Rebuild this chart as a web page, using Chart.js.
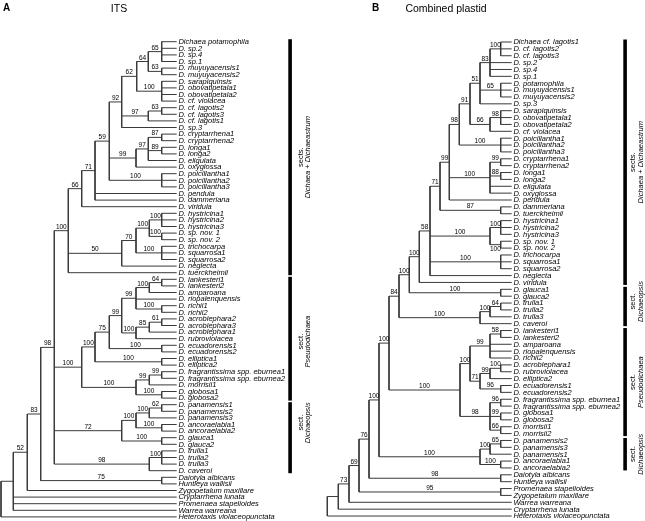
<!DOCTYPE html>
<html>
<head>
<meta charset="utf-8">
<script src="https://cdn.jsdelivr.net/npm/chart.js@4.4.1/dist/chart.umd.min.js"></script>
<style>
  html, body { margin: 0; padding: 0; background: #fff; }
  #wrap { width: 645px; height: 521px; position: relative; }
</style>
</head>
<body>
<div id="wrap"><canvas id="treeChart"></canvas></div>
<script>
// ---- ITS tree (panel A) ----
const itsLeaves = [
  'Dichaea potamophila', 'D. sp.2', 'D. sp.4', 'D. sp.1', 'D. muyuyacensis1', 'D. muyuyacensis2',
  'D. sarapiquinsis', 'D. obovatipetala1', 'D. obovatipetala2', 'D. cf. violacea', 'D. cf. lagotis2',
  'D. cf. lagotis3', 'D. cf. lagotis1', 'D. sp.3', 'D. cryptarrhena1', 'D. cryptarrhena2', 'D. longa1',
  'D. longa2', 'D. eligulata', 'D. oxyglossa', 'D. poicillantha1', 'D. poicillantha2', 'D. poicillantha3',
  'D. pendula', 'D. dammeriana', 'D. viridula', 'D. hystricina1', 'D. hystricina2', 'D. hystricina3',
  'D. sp. nov. 1', 'D. sp. nov. 2', 'D. trichocarpa', 'D. squarrosa1', 'D. squarrosa2', 'D. neglecta',
  'D. tuerckheimii', 'D. lankesteri1', 'D. lankesteri2', 'D. amparoana', 'D. riopalenquensis',
  'D. richii1', 'D. richii2', 'D. acroblephara2', 'D. acroblephara3', 'D. acroblephara1',
  'D. rubroviolacea', 'D. ecuadorensis1', 'D. ecuadorensis2', 'D. elliptica1', 'D. elliptica2',
  'D. fragrantissima spp. eburnea1', 'D. fragrantissima spp. eburnea2', 'D. morrisii1', 'D. globosa1',
  'D. globosa2', 'D. panamensis1', 'D. panamensis2', 'D. panamensis3', 'D. ancoraelabia1',
  'D. ancoraelabia2', 'D. glauca1', 'D. glauca2', 'D. trulla1', 'D. trulla2', 'D. trulla3', 'D. caveroi',
  'Daiotyla albicans', 'Huntleya wallisii', 'Zygopetalum maxillare', 'Cryptarrhena lunata',
  'Promenaea stapelioides', 'Warrea warreana', 'Heterotaxis violaceopunctata'
];
// [node id, node depth, bootstrap, children (leaf index or node id)] - children listed before parents
const itsNodes = [
  ['a65', 161.7, '65', [0, 1, 2, 3]],
  ['a63', 161.7, '63', [4, 5]],
  ['a64', 148.3, '64', ['a65', 'a63']],
  ['a100a', 161.7, '100', [6, 7, 8, 9]],
  ['a62', 136.7, '62', ['a64', 'a100a']],
  ['a63b', 161.7, '63', [10, 11]],
  ['a97', 148.3, '97', ['a63b', 12]],
  ['a92', 121.7, '92', ['a62', 'a97', 13]],
  ['a87', 161.7, '87', [14, 15]],
  ['a89', 161.7, '89', [16, 17]],
  ['a97b', 148.3, '97', ['a87', 'a89', 18]],
  ['a99', 136, '99', ['a97b', 19]],
  ['a100b', 161.7, '100', [20, 21, 22]],
  ['a59', 109.3, '59', ['a92', 'a99', 'a100b']],
  ['a71', 95, '71', ['a59', 23, 24]],
  ['a66', 81.7, '66', ['a71', 25]],
  ['a100c', 161.7, '100', [26, 27, 28]],
  ['a100d', 161.7, '100', [29, 30]],
  ['a100e', 149.3, '100', ['a100c', 'a100d']],
  ['a100f', 161.7, '100', [31, 32, 33]],
  ['a70', 136, '70', ['a100e', 'a100f']],
  ['a50', 121.7, '50', ['a70', 34]],
  ['a100g', 68.3, '100', ['a66', 'a50', 35]],
  ['a64b', 161.7, '64', [36, 37]],
  ['a100h', 149.3, '100', ['a64b', 38]],
  ['a100i', 161.7, '100', [40, 41]],
  ['a99b', 136, '99', ['a100h', 39, 'a100i']],
  ['a61', 161.7, '61', [42, 43]],
  ['a85', 149.3, '85', ['a61', 44]],
  ['a100j', 136, '100', ['a85', 45]],
  ['a99c', 121.7, '99', ['a99b', 'a100j']],
  ['a100k', 161.7, '100', [46, 47]],
  ['a75', 109.3, '75', ['a99c', 'a100k']],
  ['a100l', 161.7, '100', [48, 49]],
  ['a100m', 95, '100', ['a75', 'a100l']],
  ['a99d', 161.7, '99', [50, 51]],
  ['a99e', 149.3, '99', ['a99d', 52]],
  ['a100n', 161.7, '100', [53, 54]],
  ['a100o', 136, '100', ['a99e', 'a100n']],
  ['a100p', 81.7, '100', ['a100m', 'a100o']],
  ['a62b', 161.7, '62', [55, 56]],
  ['a100q', 149.3, '100', ['a62b', 57]],
  ['a100r', 161.7, '100', [58, 59]],
  ['a100s', 136, '100', ['a100q', 'a100r']],
  ['a100t', 161.7, '100', [60, 61]],
  ['a72', 121.7, '72', ['a100s', 'a100t']],
  ['a100u', 161.7, '100', [62, 63, 64]],
  ['a98b', 149.3, '98', ['a100u', 65]],
  ['a98', 54.3, '98', ['a100g', 'a100p', 'a72', 'a98b']],
  ['a75b', 161.7, '75', [66, 67]],
  ['a83', 40.7, '83', ['a98', 'a75b']],
  ['a52', 27.3, '52', ['a83', 68]],
  ['aOut', 13.3, '', ['a52', 69, 70, 71]],
  ['aRoot', 1, '', ['aOut', 72]]
];
// [line 1, line 2, first leaf, last leaf]
const itsSections = [
  ['sects.', 'Dichaea + Dichaeastrum', 0, 35],
  ['sect.', 'Pseudodichaea', 36, 54],
  ['sect.', 'Dichaeopsis', 55, 65]
];

// ---- Combined plastid tree (panel B) ----
const plastidLeaves = [
  'Dichaea cf. lagotis1', 'D. cf. lagotis2', 'D. cf. lagotis3', 'D. sp.2', 'D. sp.4', 'D. sp.1',
  'D. potamophila', 'D. muyuyacensis1', 'D. muyuyacensis2', 'D. sp.3', 'D. sarapiquinsis',
  'D. obovatipetala1', 'D. obovatipetala2', 'D. cf. violacea', 'D. poicillantha1', 'D. poicillantha2',
  'D. poicillantha3', 'D. cryptarrhena1', 'D. cryptarrhena2', 'D. longa1', 'D. longa2', 'D. eligulata',
  'D. oxyglossa', 'D. pendula', 'D. dammeriana', 'D. tuerckheimii', 'D. hystricina1', 'D. hystricina2',
  'D. hystricina3', 'D. sp. nov. 1', 'D. sp. nov. 2', 'D. trichocarpa', 'D. squarrosa1', 'D. squarrosa2',
  'D. neglecta', 'D. viridula', 'D. glauca1', 'D. glauca2', 'D. trulla1', 'D. trulla2', 'D. trulla3',
  'D. caveroi', 'D. lankesteri1', 'D. lankesteri2', 'D. amparoana', 'D. riopalenquensis', 'D. richii2',
  'D. acroblephara1', 'D. rubroviolacea', 'D. elliptica2', 'D. ecuadorensis1', 'D. ecuadorensis2',
  'D. fragrantissima spp. eburnea1', 'D. fragrantissima spp. eburnea2', 'D. globosa1', 'D. globosa2',
  'D. morrisii1', 'D. morrisii2', 'D. panamensis2', 'D. panamensis3', 'D. panamensis1',
  'D. ancoraelabia1', 'D. ancoraelabia2', 'Daiotyla albicans', 'Huntleya wallisii',
  'Promenaea stapelioides', 'Zygopetalum maxillare', 'Warrea warreana', 'Cryptarrhena lunata',
  'Heterotaxis violaceopunctata'
];
const plastidNodes = [
  ['b100a', 500.7, '100', [0, 1, 2]],
  ['b83', 490, '83', ['b100a', 3, 4, 5]],
  ['b65', 500.7, '65', [6, 7, 8]],
  ['b51', 480, '51', ['b83', 'b65', 9]],
  ['b98a', 500.7, '98', [10, 11, 12]],
  ['b66', 490, '66', ['b98a', 13]],
  ['b91', 470, '91', ['b51', 'b66']],
  ['b100b', 500.7, '100', [14, 15, 16]],
  ['b98', 459.3, '98', ['b91', 'b100b']],
  ['b99a', 500.7, '99', [17, 18]],
  ['b88', 500.7, '88', [19, 20]],
  ['b100c', 490, '100', ['b99a', 'b88', 21, 22]],
  ['b99', 449.3, '99', ['b98', 'b100c', 23]],
  ['b87', 500.7, '87', [24, 25]],
  ['b71', 440, '71', ['b99', 'b87']],
  ['b100d', 500.7, '100', [26, 27, 28]],
  ['b100e', 500.7, '100', [29, 30]],
  ['b100f', 490, '100', ['b100d', 'b100e']],
  ['b100g', 500.7, '100', [31, 32, 33]],
  ['b58', 430, '58', ['b71', 'b100f', 'b100g', 34]],
  ['b100h', 419.3, '100', ['b58', 35]],
  ['b100i', 500.7, '100', [36, 37]],
  ['b100j', 409.3, '100', ['b100h', 'b100i']],
  ['b64', 500.7, '64', [38, 39]],
  ['b100k', 490, '100', ['b64', 40]],
  ['b100l', 480, '100', ['b100k', 41]],
  ['b84', 399, '84', ['b100j', 'b100l']],
  ['b58b', 500.7, '58', [42, 43]],
  ['b99b', 490, '99', ['b58b', 44, 45, 46]],
  ['b100m', 500.7, '100', [47, 48]],
  ['b99c', 490, '99', ['b100m', 49]],
  ['b96', 500.7, '96', [50, 51]],
  ['b71b', 480, '71', ['b99c', 'b96']],
  ['b100n', 470, '100', ['b99b', 'b71b']],
  ['b96b', 500.7, '96', [52, 53]],
  ['b99d', 500.7, '99', [54, 55]],
  ['b66b', 500.7, '66', [56, 57]],
  ['b98b', 490, '98', ['b96b', 'b99d', 'b66b']],
  ['b100o', 460, '100', ['b100n', 'b98b']],
  ['b100p', 389, '100', ['b84', 'b100o']],
  ['b65b', 500.7, '65', [58, 59]],
  ['b100q', 490, '100', ['b65b', 60]],
  ['b100r', 500.7, '100', [61, 62]],
  ['b100s', 480, '100', ['b100q', 'b100r']],
  ['b100t', 379, '100', ['b100p', 'b100s']],
  ['b98c', 500.7, '98', [63, 64]],
  ['b76', 369, '76', ['b100t', 'b98c']],
  ['b95', 500.7, '95', [65, 66]],
  ['b69', 359, '69', ['b76', 'b95']],
  ['b73', 349, '73', ['b69', 67]],
  ['bOut', 338.3, '', ['b73', 68]],
  ['bRoot', 327.3, '', ['bOut', 69]]
];
const plastidSections = [
  ['sects.', 'Dichaea + Dichaeastrum', 0, 35],
  ['sect.', 'Dichaeopsis', 36, 41],
  ['sect.', 'Pseudodichaea', 42, 57],
  ['sect.', 'Dichaeopsis', 58, 62]
];

// layout of the two panels (drawing positions only)
const panels = [
  { letter: 'A', title: 'ITS', leaves: itsLeaves, nodes: itsNodes, sections: itsSections,
    tipX: 176.7, top: 41.7, gap: 6.6, letterX: 3, titleX: 119, barX: 288.3, sectX: 301, cladeX: 308,
    labelShift: [0, 3, -15], below: [] },
  { letter: 'B', title: 'Combined plastid', leaves: plastidLeaves, nodes: plastidNodes, sections: plastidSections,
    tipX: 511.7, top: 42, gap: 6.87, letterX: 372, titleX: 446, barX: 623.3, sectX: 633, cladeX: 640.5,
    labelShift: [0, -5, 0, 0], below: ['b100e'] }
];

function buildTree(p) {
  const pos = {};
  const parentX = {};
  const segs = [];
  p.leaves.forEach((name, i) => { pos[i] = { x: p.tipX, y: p.top + i * p.gap }; });
  p.nodes.forEach(([id, nx, sup, kids]) => {
    const ys = kids.map(k => pos[k].y);
    pos[id] = { x: nx, y: (ys[0] + ys[ys.length - 1]) / 2 };
    segs.push({ x: nx, y: ys[0] }, { x: nx, y: ys[ys.length - 1] }, { x: null, y: null });
    kids.forEach(k => {
      parentX[k] = nx;
      segs.push({ x: nx, y: pos[k].y }, { x: pos[k].x, y: pos[k].y }, { x: null, y: null });
    });
  });
  return { pos, parentX, segs };
}

const built = panels.map(buildTree);

const FONT = '"Liberation Sans", Arial, Helvetica, sans-serif';

const treeText = {
  id: 'treeText',
  afterDatasetsDraw(chart) {
    const { ctx } = chart;
    const sx = chart.scales.x, sy = chart.scales.y;
    ctx.save();
    ctx.fillStyle = '#000';
    panels.forEach((p, ti) => {
      const b = built[ti];
      // panel letter and title
      ctx.textBaseline = 'middle';
      ctx.textAlign = 'left';
      ctx.font = 'bold 10px ' + FONT;
      ctx.fillText(p.letter, sx.getPixelForValue(p.letterX), sy.getPixelForValue(8.5));
      ctx.textAlign = 'center';
      ctx.font = '10.5px ' + FONT;
      ctx.fillText(p.title, sx.getPixelForValue(p.titleX), sy.getPixelForValue(9));

      // taxon names
      ctx.textAlign = 'left';
      ctx.font = 'italic 7.5px ' + FONT;
      p.leaves.forEach((name, i) => {
        ctx.fillText(name, sx.getPixelForValue(p.tipX) + 1.7, sy.getPixelForValue(b.pos[i].y) + 0.3);
      });

      // bootstrap values
      ctx.textAlign = 'center';
      ctx.font = '6.5px ' + FONT;
      p.nodes.forEach(([id, nx, sup]) => {
        if (!sup || b.parentX[id] === undefined) return;
        const cx = sx.getPixelForValue((b.parentX[id] + nx) / 2);
        const cy = sy.getPixelForValue(b.pos[id].y);
        if (p.below.includes(id)) {
          ctx.textBaseline = 'top';
          ctx.fillText(sup, cx, cy + 1);
        } else {
          ctx.textBaseline = 'bottom';
          ctx.fillText(sup, cx, cy - 0.5);
        }
      });

      // section bars and labels
      p.sections.forEach(([l1, l2, a, z], si) => {
        const y1 = sy.getPixelForValue(b.pos[a].y - 2.5);
        const y2 = sy.getPixelForValue(b.pos[z].y + 2.5);
        ctx.fillRect(sx.getPixelForValue(p.barX), y1, 3.6, y2 - y1);
        const cy = (y1 + y2) / 2 + (p.labelShift[si] || 0);
        ctx.save();
        ctx.textAlign = 'center';
        ctx.textBaseline = 'middle';
        ctx.translate(sx.getPixelForValue(p.sectX), cy);
        ctx.rotate(-Math.PI / 2);
        ctx.font = '7.5px ' + FONT;
        ctx.fillText(l1, 0, 0);
        ctx.restore();
        ctx.save();
        ctx.textAlign = 'center';
        ctx.textBaseline = 'middle';
        ctx.translate(sx.getPixelForValue(p.cladeX), cy);
        ctx.rotate(-Math.PI / 2);
        ctx.font = 'italic 7.5px ' + FONT;
        ctx.fillText(l2, 0, 0);
        ctx.restore();
      });
    });
    ctx.restore();
  }
};

const ctx = document.getElementById('treeChart').getContext('2d');
const treeChart = new Chart(ctx, {
  type: 'scatter',
  data: {
    datasets: built.map((b, i) => ({
      label: panels[i].title,
      data: b.segs,
      showLine: true,
      spanGaps: false,
      borderColor: '#3a3a3a',
      borderWidth: 1,
      pointRadius: 0,
      pointHoverRadius: 0,
      tension: 0
    }))
  },
  options: {
    responsive: true,
    maintainAspectRatio: false,
    animation: false,
    events: [],
    layout: { padding: 0 },
    scales: {
      x: { type: 'linear', min: 0, max: 645, display: false },
      y: { type: 'linear', min: 0, max: 521, reverse: true, display: false }
    },
    plugins: {
      legend: { display: false },
      tooltip: { enabled: false }
    }
  },
  plugins: [treeText]
});
</script>
</body>
</html>
